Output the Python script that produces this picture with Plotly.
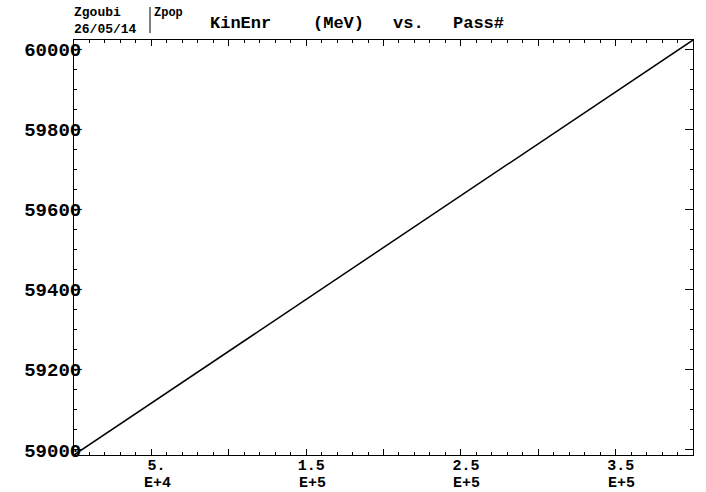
import plotly.graph_objects as go

# ---- data ----
pass_num = [0, 400000]
kin_enr = [58987.5, 60022.5]

x_tick_vals = [50000, 100000, 150000, 200000, 250000, 300000, 350000]
x_tick_text = ["5.", "", "1.5", "", "2.5", "", "3.5"]
x_tick_exp = ["E+4", "", "E+5", "", "E+5", "", "E+5"]
y_tick_vals = [59000, 59200, 59400, 59600, 59800, 60000]
y_tick_text = ["59000", "59200", "59400", "59600", "59800", "60000"]

W, H = 706, 492
L, R, T, B = 74, 13, 40, 37
PW, PH = W - L - R, H - T - B


def px(x):
    return (x - L) / PW


def py(y):
    return (H - B - y) / PH


MONO = "Courier New, Liberation Mono, monospace"
SANS_MONO = "Liberation Mono, DejaVu Sans Mono, monospace"

fig = go.Figure()
fig.add_trace(go.Scatter(x=pass_num, y=kin_enr, mode="lines",
                         line=dict(color="black", width=1.5),
                         showlegend=False, hoverinfo="skip"))

fig.update_xaxes(
    range=[pass_num[0], pass_num[-1]],
    tickmode="array", tickvals=x_tick_vals, ticktext=x_tick_text,
    ticks="inside", ticklen=6, tickwidth=1, tickcolor="black",
    minor=dict(dtick=10000, tick0=0, ticks="inside", ticklen=3,
               tickcolor="black", tickwidth=1),
    showline=True, linecolor="black", linewidth=1, mirror="allticks",
    showgrid=False, zeroline=False, automargin=False,
    tickfont=dict(family=MONO, size=15, color="black", weight="bold"),
    ticklabelshift=5, ticklabelstandoff=-4,
)
fig.update_yaxes(
    range=[kin_enr[0], kin_enr[-1]],
    tickmode="array", tickvals=y_tick_vals, ticktext=y_tick_text,
    ticks="inside", ticklen=8, tickwidth=1, tickcolor="black",
    minor=dict(dtick=50, tick0=59000, ticks="inside", ticklen=3,
               tickcolor="black", tickwidth=1),
    showline=True, linecolor="black", linewidth=1, mirror="allticks",
    showgrid=False, zeroline=False, automargin=False,
    tickfont=dict(family=SANS_MONO, size=19, color="black", weight="bold"),
    ticklabelstandoff=-12,
)

# exponent line of the x tick labels
for xv, ex in zip(x_tick_vals, x_tick_exp):
    if ex:
        fig.add_annotation(text=ex, x=xv, y=py(483), xref="x", yref="paper",
                           xanchor="center", yanchor="middle", xshift=6,
                           showarrow=False, borderpad=0,
                           font=dict(family=MONO, size=15, color="black", weight="bold"))

annotations = [
    dict(text="Zgoubi", x=px(73), y=py(13), size=13),
    dict(text="Zpop", x=px(153), y=py(13), size=12),
    dict(text="26/05/14", x=px(73), y=py(30), size=13),
    dict(text="KinEnr", x=px(209), y=py(23), size=17),
    dict(text="(MeV)", x=px(312), y=py(23), size=17),
    dict(text="vs.", x=px(392), y=py(23), size=17),
    dict(text="Pass#", x=px(452), y=py(23), size=17),
]
for a in annotations:
    fig.add_annotation(text=a["text"], x=a["x"], y=a["y"], xref="paper", yref="paper",
                       xanchor="left", yanchor="middle", showarrow=False, borderpad=0,
                       font=dict(family=MONO, size=a["size"], color="black", weight="bold"))

fig.add_shape(type="line", xref="paper", yref="paper",
              x0=px(150), x1=px(150), y0=py(7), y1=py(33),
              line=dict(color="black", width=1))

fig.update_layout(
    width=W, height=H,
    margin=dict(l=L, r=R, t=T, b=B),
    paper_bgcolor="white", plot_bgcolor="white",
)

fig.write_html("out.html")
